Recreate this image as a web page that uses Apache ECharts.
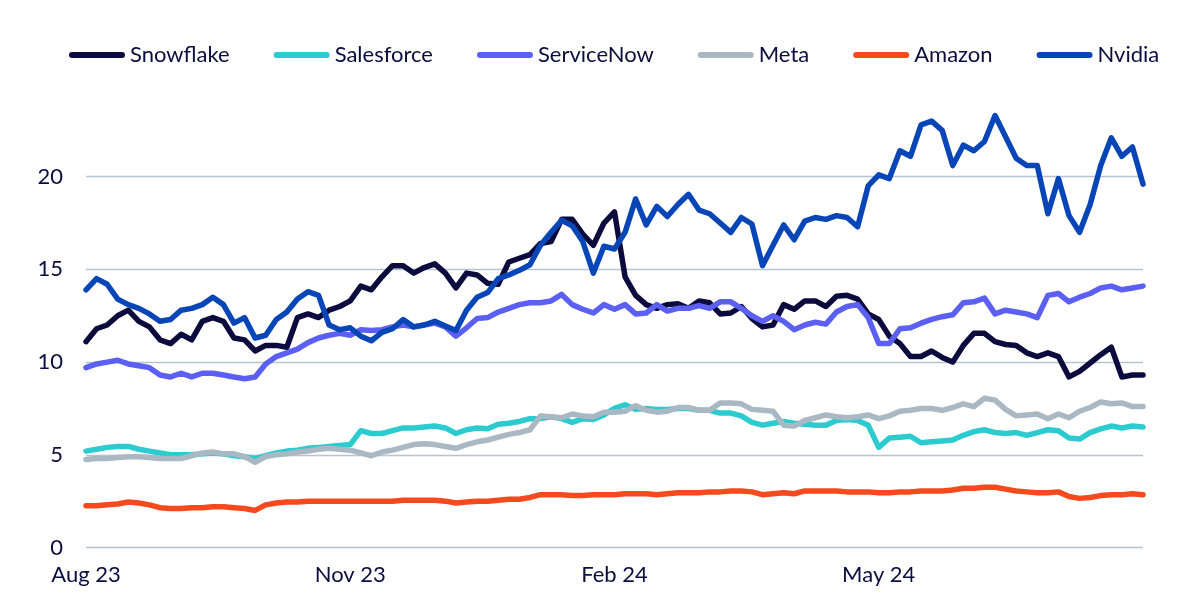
<!DOCTYPE html>
<html>
<head>
<meta charset="utf-8">
<script src="https://cdn.jsdelivr.net/npm/echarts@6/dist/echarts.min.js"></script>
<style>
  html, body { margin: 0; padding: 0; background: #ffffff; }
  #chart { width: 1200px; height: 616px; }
</style>
</head>
<body>
<div id="chart"></div>
<script>
// Tick labels shown on the category axis, one every `labelEvery` points
const tickLabels = ['Aug 23', 'Nov 23', 'Feb 24', 'May 24'];
const labelEvery = 25;

const seriesNames = ['Snowflake', 'Salesforce', 'ServiceNow', 'Meta', 'Amazon', 'Nvidia'];

const snowflake = [
  11.1, 11.8, 12.0, 12.5, 12.8, 12.2, 11.9, 11.2, 11.0, 11.5, 11.2, 12.2, 12.4, 12.2, 11.3, 11.2, 10.6,
  10.9, 10.9, 10.8, 12.4, 12.6, 12.4, 12.8, 13.0, 13.3, 14.1, 13.9, 14.6, 15.2, 15.2, 14.8, 15.1, 15.3,
  14.8, 14.0, 14.8, 14.7, 14.25, 14.2, 15.4, 15.6, 15.8, 16.4, 16.5, 17.7, 17.7, 16.9, 16.3, 17.5,
  18.1, 14.6, 13.6, 13.1, 12.9, 13.1, 13.15, 12.9, 13.3, 13.2, 12.6, 12.65, 13.0, 12.35, 11.9, 12.0, 13.1,
  12.85, 13.3, 13.3, 13.0, 13.55, 13.6, 13.4, 12.6, 12.3, 11.4, 11.0, 10.3, 10.3, 10.6, 10.25, 10.0, 10.9,
  11.55, 11.55, 11.1, 10.95, 10.9, 10.5, 10.3, 10.5, 10.3, 9.2, 9.5, 9.95, 10.4, 10.8, 9.2, 9.3, 9.3
];
const salesforce = [
  5.2, 5.3, 5.4, 5.45, 5.45, 5.3, 5.2, 5.1, 5.0, 5.0, 5.0, 5.05, 5.1, 5.05, 4.95, 4.9, 4.8,
  4.95, 5.1, 5.2, 5.25, 5.35, 5.4, 5.45, 5.5, 5.55, 6.3, 6.15, 6.15, 6.3, 6.45, 6.45, 6.5, 6.55,
  6.45, 6.15, 6.35, 6.45, 6.4, 6.65, 6.7, 6.8, 6.95, 6.95, 7.05, 6.95, 6.75, 6.95, 6.9, 7.15,
  7.5, 7.7, 7.45, 7.5, 7.45, 7.45, 7.5, 7.5, 7.4, 7.4, 7.25, 7.25, 7.1, 6.75, 6.6, 6.7, 6.8,
  6.7, 6.65, 6.6, 6.6, 6.85, 6.9, 6.85, 6.6, 5.4, 5.9, 5.95, 6.0, 5.65, 5.7, 5.75, 5.8, 6.05,
  6.25, 6.35, 6.2, 6.15, 6.2, 6.05, 6.2, 6.35, 6.3, 5.9, 5.85, 6.2, 6.4, 6.55, 6.45, 6.55, 6.5
];
const serviceNow = [
  9.7, 9.9, 10.0, 10.1, 9.9, 9.8, 9.7, 9.3, 9.2, 9.4, 9.2, 9.4, 9.4, 9.3, 9.2, 9.1, 9.2,
  9.9, 10.3, 10.5, 10.7, 11.05, 11.3, 11.45, 11.55, 11.45, 11.75, 11.7, 11.75, 11.9, 12.0, 11.9, 12.0, 12.1,
  11.9, 11.4, 11.85, 12.35, 12.4, 12.7, 12.9, 13.1, 13.2, 13.2, 13.3, 13.65, 13.1, 12.85, 12.65, 13.1,
  12.85, 13.1, 12.6, 12.65, 13.1, 12.75, 12.9, 12.9, 13.05, 12.9, 13.25, 13.25, 12.9, 12.5, 12.2, 12.5, 12.2,
  11.75, 12.0, 12.15, 12.05, 12.7, 13.0, 13.1, 12.4, 11.0, 11.0, 11.8, 11.85, 12.1, 12.3, 12.45, 12.55, 13.2,
  13.25, 13.45, 12.6, 12.8, 12.7, 12.6, 12.4, 13.6, 13.7, 13.25, 13.5, 13.7, 14.0, 14.1, 13.9, 14.0, 14.1
];
const meta = [
  4.75, 4.8, 4.8, 4.85, 4.9, 4.9, 4.85, 4.8, 4.8, 4.8, 4.95, 5.1, 5.15, 5.05, 5.05, 4.9, 4.6,
  4.9, 5.0, 5.05, 5.15, 5.2, 5.3, 5.35, 5.3, 5.25, 5.1, 4.95, 5.15, 5.25, 5.4, 5.55, 5.6, 5.55,
  5.45, 5.35, 5.55, 5.7, 5.8, 5.95, 6.1, 6.2, 6.35, 7.1, 7.05, 7.0, 7.2, 7.1, 7.05, 7.3,
  7.3, 7.35, 7.65, 7.4, 7.3, 7.35, 7.55, 7.55, 7.4, 7.4, 7.8, 7.8, 7.75, 7.45, 7.4, 7.35, 6.6,
  6.55, 6.85, 7.0, 7.15, 7.05, 7.0, 7.05, 7.15, 6.95, 7.1, 7.35, 7.4, 7.5, 7.5, 7.4, 7.55, 7.75,
  7.6, 8.05, 7.95, 7.45, 7.1, 7.15, 7.2, 6.95, 7.2, 7.0, 7.35, 7.55, 7.85, 7.75, 7.8, 7.6, 7.6
];
const amazon = [
  2.25, 2.25, 2.3, 2.35, 2.45, 2.4, 2.3, 2.15, 2.1, 2.1, 2.15, 2.15, 2.2, 2.2, 2.15, 2.1, 2.0,
  2.3, 2.4, 2.45, 2.45, 2.5, 2.5, 2.5, 2.5, 2.5, 2.5, 2.5, 2.5, 2.5, 2.55, 2.55, 2.55, 2.55,
  2.5, 2.4, 2.45, 2.5, 2.5, 2.55, 2.6, 2.6, 2.7, 2.85, 2.85, 2.85, 2.8, 2.8, 2.85, 2.85,
  2.85, 2.9, 2.9, 2.9, 2.85, 2.9, 2.95, 2.95, 2.95, 3.0, 3.0, 3.05, 3.05, 3.0, 2.85, 2.9, 2.95,
  2.9, 3.05, 3.05, 3.05, 3.05, 3.0, 3.0, 3.0, 2.95, 2.95, 3.0, 3.0, 3.05, 3.05, 3.05, 3.1, 3.2,
  3.2, 3.25, 3.25, 3.15, 3.05, 3.0, 2.95, 2.95, 3.0, 2.75, 2.65, 2.7, 2.8, 2.85, 2.85, 2.9, 2.85
];
const nvidia = [
  13.9, 14.5, 14.2, 13.4, 13.1, 12.9, 12.6, 12.2, 12.3, 12.8, 12.9, 13.1, 13.5, 13.1, 12.1, 12.4, 11.3,
  11.45, 12.3, 12.7, 13.4, 13.8, 13.6, 12.0, 11.75, 11.85, 11.4, 11.15, 11.6, 11.8, 12.3, 11.9, 12.0, 12.2,
  11.95, 11.7, 12.8, 13.5, 13.75, 14.5, 14.7, 14.95, 15.25, 16.3, 17.0, 17.65, 17.35, 16.5, 14.8, 16.25,
  16.1, 17.0, 18.8, 17.4, 18.4, 17.85, 18.5, 19.05, 18.2, 18.0, 17.5, 17.0, 17.8, 17.45, 15.2, 16.3, 17.4,
  16.6, 17.6, 17.8, 17.7, 17.9, 17.8, 17.3, 19.5, 20.1, 19.9, 21.4, 21.1, 22.8, 23.0, 22.5, 20.6, 21.7,
  21.4, 21.9, 23.3, 22.15, 21.0, 20.6, 20.6, 18.0, 19.9, 17.9, 17.0, 18.5, 20.6, 22.1, 21.1, 21.6, 19.6
];

const seriesValues = [snowflake, salesforce, serviceNow, meta, amazon, nvidia];
const seriesColors = ['#0B0B3D', '#2CCBCF', '#5B5FF2', '#AAB8C4', '#F64A1E', '#0846B8'];

const categories = snowflake.map((_, i) => i);

const textColor = '#0C0C3E';
const gridColor = '#B5C4D0';
const fontFamily = 'Lato, "Noto Sans", sans-serif';

const chart = echarts.init(document.getElementById('chart'), null, { renderer: 'canvas' });

chart.setOption({
  animation: false,
  backgroundColor: '#ffffff',
  textStyle: { fontFamily: fontFamily, color: textColor },
  legend: {
    left: 64,
    top: 39,
    itemWidth: 56,
    itemHeight: 6,
    itemGap: 44,
    icon: 'path://M3,0 L53,0 A3,3 0 0 1 53,6 L3,6 A3,3 0 0 1 3,0 Z',
    textStyle: { fontSize: 22, color: textColor, fontFamily: fontFamily },
    data: seriesNames
  },
  grid: { left: 86, right: 57, top: 84, bottom: 68.5, containLabel: false },
  xAxis: {
    type: 'category',
    data: categories,
    boundaryGap: false,
    axisLine: { show: false },
    axisTick: { show: false },
    splitLine: { show: false },
    axisLabel: {
      interval: function (index) { return index % labelEvery === 0 && index / labelEvery < tickLabels.length; },
      formatter: function (value, index) { return tickLabels[index / labelEvery] || ''; },
      color: textColor,
      fontSize: 22,
      fontFamily: fontFamily,
      margin: 16
    }
  },
  yAxis: {
    type: 'value',
    min: 0,
    max: 25,
    interval: 5,
    axisLine: { show: false },
    axisTick: { show: false },
    axisLabel: {
      showMaxLabel: false,
      color: textColor,
      fontSize: 22,
      fontFamily: fontFamily,
      margin: 23
    },
    splitLine: {
      show: true,
      lineStyle: { color: [gridColor, gridColor, gridColor, gridColor, gridColor, 'rgba(0,0,0,0)'], width: 1.3 }
    }
  },
  series: seriesNames.map((name, k) => ({
    name: name,
    type: 'line',
    data: seriesValues[k],
    showSymbol: false,
    symbol: 'none',
    smooth: false,
    color: seriesColors[k],
    lineStyle: { width: 5.5, color: seriesColors[k], cap: 'round', join: 'round' },
    emphasis: { disabled: true }
  }))
});
</script>
</body>
</html>
